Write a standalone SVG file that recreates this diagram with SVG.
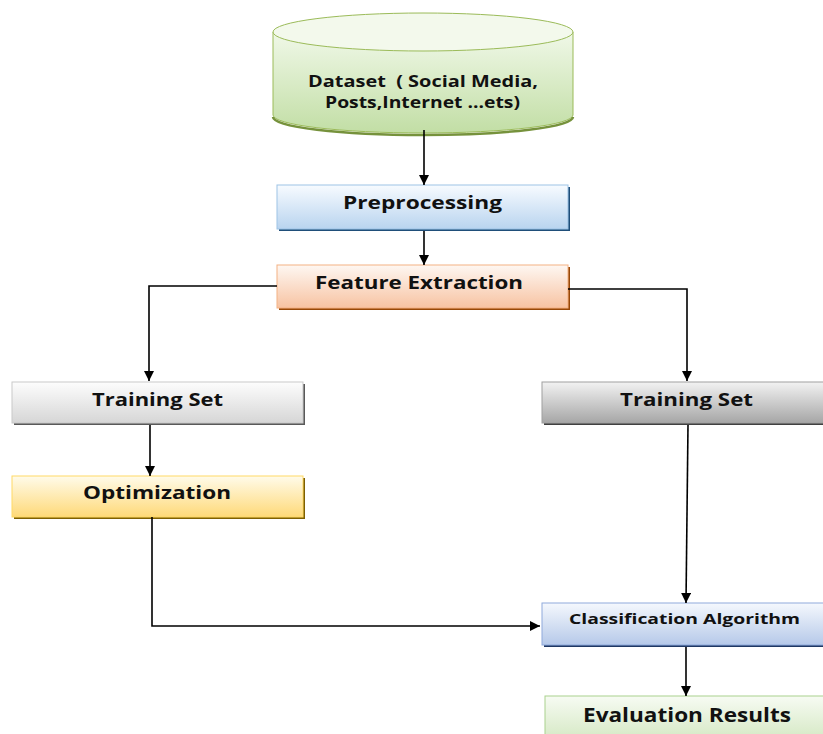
<svg xmlns="http://www.w3.org/2000/svg" width="823" height="734" viewBox="0 0 823 734">
<defs>
<linearGradient id="gGreen" x1="0" y1="0" x2="0" y2="1"><stop offset="0" stop-color="#f0f8e8"/><stop offset="1" stop-color="#c2dea5"/></linearGradient>
<linearGradient id="gBlue" x1="0" y1="0" x2="0" y2="1"><stop offset="0" stop-color="#f7fbff"/><stop offset="1" stop-color="#b9d4ef"/></linearGradient>
<linearGradient id="gOrange" x1="0" y1="0" x2="0" y2="1"><stop offset="0" stop-color="#fef7f2"/><stop offset="1" stop-color="#f7c3a2"/></linearGradient>
<linearGradient id="gGray" x1="0" y1="0" x2="0" y2="1"><stop offset="0" stop-color="#fdfdfd"/><stop offset="1" stop-color="#d6d6d6"/></linearGradient>
<linearGradient id="gYellow" x1="0" y1="0" x2="0" y2="1"><stop offset="0" stop-color="#fffbea"/><stop offset="1" stop-color="#fed978"/></linearGradient>
<linearGradient id="gDark" x1="0" y1="0" x2="0" y2="1"><stop offset="0" stop-color="#f2f2f2"/><stop offset="1" stop-color="#a6a6a6"/></linearGradient>
<linearGradient id="gCls" x1="0" y1="0" x2="0" y2="1"><stop offset="0" stop-color="#f5f8fd"/><stop offset="1" stop-color="#b6c9e9"/></linearGradient>
<linearGradient id="gEval" x1="0" y1="0" x2="0" y2="1"><stop offset="0" stop-color="#f7fbf3"/><stop offset="1" stop-color="#d8eac8"/></linearGradient>
<marker id="arr" viewBox="0 0 10 10" refX="10" refY="5" markerWidth="10" markerHeight="10" markerUnits="userSpaceOnUse" orient="auto"><path d="M0,0 L10,5 L0,10 z" fill="#000"/></marker>
</defs>
<style>
.t{font-family:"Open Sans","Liberation Sans",sans-serif;font-weight:bold;font-size:18px;fill:#111;text-anchor:middle}
.c{stroke:#000;stroke-width:1.6;fill:none;marker-end:url(#arr)}
</style>
<rect width="823" height="734" fill="#fff"/>
<g id="dataset">
<path d="M273,32 L273,115 A150,18 0 0 0 573,115 L573,32" fill="url(#gGreen)" stroke="#9bbb59" stroke-width="1"/>
<path d="M273,117 A150,18 0 0 0 573,117" fill="none" stroke="#76923c" stroke-width="2.5"/>
<ellipse cx="423" cy="32" rx="150" ry="19" fill="#f3f9ec" stroke="#9bbb59" stroke-width="1"/>
<text class="t" x="423" y="87" style="font-size:15.5px" textLength="230" lengthAdjust="spacingAndGlyphs" xml:space="preserve">Dataset  ( Social Media,</text>
<text class="t" x="422.5" y="108" style="font-size:15.5px" textLength="195" lengthAdjust="spacingAndGlyphs">Posts,Internet ...ets)</text>
</g>
<g id="preprocessing">
<rect x="279" y="187" width="291" height="44" fill="#1f4e79"/>
<rect x="277" y="185" width="291" height="44" fill="url(#gBlue)" stroke="#9dc3e6" stroke-width="1"/>
<text class="t" x="422.5" y="209" textLength="159" lengthAdjust="spacingAndGlyphs">Preprocessing</text>
</g>
<g id="feature">
<rect x="279" y="267" width="291" height="43" fill="#984807"/>
<rect x="277" y="265" width="291" height="43" fill="url(#gOrange)" stroke="#f4b183" stroke-width="1"/>
<text class="t" x="419" y="289" textLength="208" lengthAdjust="spacingAndGlyphs">Feature Extraction</text>
</g>
<g id="train1">
<rect x="14" y="384" width="291" height="41" fill="#595959"/>
<rect x="12" y="382" width="291" height="41" fill="url(#gGray)" stroke="#c9c9c9" stroke-width="1"/>
<text class="t" x="157.5" y="406" textLength="131" lengthAdjust="spacingAndGlyphs">Training Set</text>
</g>
<g id="optimization">
<rect x="14" y="478" width="291" height="41" fill="#7f6000"/>
<rect x="12" y="476" width="291" height="41" fill="url(#gYellow)" stroke="#ffd966" stroke-width="1"/>
<text class="t" x="157" y="499" textLength="148" lengthAdjust="spacingAndGlyphs">Optimization</text>
</g>
<g id="train2">
<rect x="544" y="384" width="281" height="41" fill="#404040"/>
<rect x="542" y="382" width="283" height="41" fill="url(#gDark)" stroke="#a0a0a0" stroke-width="1"/>
<text class="t" x="686.5" y="406" textLength="133" lengthAdjust="spacingAndGlyphs">Training Set</text>
</g>
<g id="classification">
<rect x="544" y="605" width="281" height="42" fill="#1f3864"/>
<rect x="542" y="603" width="283" height="42" fill="url(#gCls)" stroke="#8faadc" stroke-width="1"/>
<text class="t" x="684.5" y="624" style="font-size:15px" textLength="231" lengthAdjust="spacingAndGlyphs">Classification Algorithm</text>
</g>
<g id="evaluation">
<rect x="545" y="696" width="280" height="40" fill="url(#gEval)" stroke="#a9d18e" stroke-width="1"/>
<text class="t" x="687" y="722" style="font-size:19px" textLength="208" lengthAdjust="spacingAndGlyphs">Evaluation Results</text>
</g>
<g id="connectors">
<path class="c" d="M424,130 L424,185"/>
<path class="c" d="M424,231 L424,265"/>
<path class="c" d="M277,286 L149,286 L149,381"/>
<path class="c" d="M568,289 L687,289 L687,381"/>
<path class="c" d="M150,425 L150,476"/>
<path class="c" d="M152,517 L152,626 L540,626"/>
<path class="c" d="M688,425 L686,603"/>
<path class="c" d="M686,647 L686,696"/>
</g>
</svg>
